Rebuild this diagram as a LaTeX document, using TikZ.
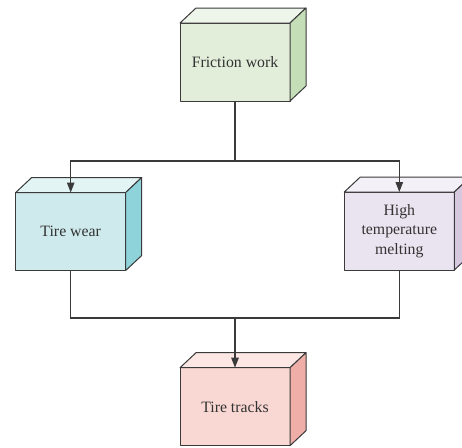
\documentclass[tikz,border=0pt]{standalone}
\usepackage{fontspec}
\setmainfont{Liberation Serif}
\usetikzlibrary{arrows.meta}

\definecolor{linegray}{HTML}{3A3A3A}
\definecolor{textgray}{HTML}{333333}
\definecolor{greenfront}{HTML}{E2EDDA}
\definecolor{greentop}{HTML}{EEF5EA}
\definecolor{greenside}{HTML}{C4DFB7}
\definecolor{tealfront}{HTML}{CFEAED}
\definecolor{tealtop}{HTML}{E3F4F5}
\definecolor{tealside}{HTML}{8ED2DA}
\definecolor{lilacfront}{HTML}{EAE4F0}
\definecolor{lilactop}{HTML}{F4F0F7}
\definecolor{lilacside}{HTML}{D5C8DF}
\definecolor{pinkfront}{HTML}{F9D7D2}
\definecolor{pinktop}{HTML}{FCE7E4}
\definecolor{pinkside}{HTML}{EFAFA8}

\tikzset{
  face/.style={draw=linegray, line width=1pt, line join=round},
  cube/.style={face, minimum width=110, minimum height=78, outer sep=0pt,
    inner sep=2pt, align=center, text=textgray,
    font=\fontsize{15.8}{19.5}\selectfont},
  link/.style={draw=linegray, line width=1.1pt},
  arrow/.style={link, -{Triangle[length=10pt,width=7.5pt]}}
}

% top and right faces of a box
\newcommand{\cubefaces}[3]{%
  \filldraw[face,fill=#2] (#1.north west) -- ++(16,-15)
    -- ([shift={(16,-15)}]#1.north east) -- (#1.north east) -- cycle;
  \filldraw[face,fill=#3] (#1.north east) -- ++(16,-15)
    -- ([shift={(16,-15)}]#1.south east) -- (#1.south east) -- cycle;
}

\begin{document}
\begin{tikzpicture}[x=1pt,y=-1pt]
\useasboundingbox (0,0) rectangle (462,447);

% boxes
\node[cube, fill=greenfront] (fric) at (235,62) {Friction work};
\cubefaces{fric}{greentop}{greenside}
\node[cube, fill=tealfront] (wear) at (70.7,231.5) {Tire wear};
\cubefaces{wear}{tealtop}{tealside}
\node[cube, fill=lilacfront] (melt) at (399.3,231) {High\\temperature\\melting};
\cubefaces{melt}{lilactop}{lilacside}
\node[cube, fill=pinkfront] (track) at (235,406.7) {Tire tracks};
\cubefaces{track}{pinktop}{pinkside}

% connectors
\coordinate (split) at (235,161);
\coordinate (merge) at (235,318);
\draw[link] (fric.south) -- (split);
\draw[arrow] (split) -| (wear.north);
\draw[arrow] (split) -| (melt.north);
\draw[link] (wear.south) |- (merge);
\draw[link] (melt.south) |- (merge);
\draw[arrow] (merge) -- (track.north);
\end{tikzpicture}
\end{document}
